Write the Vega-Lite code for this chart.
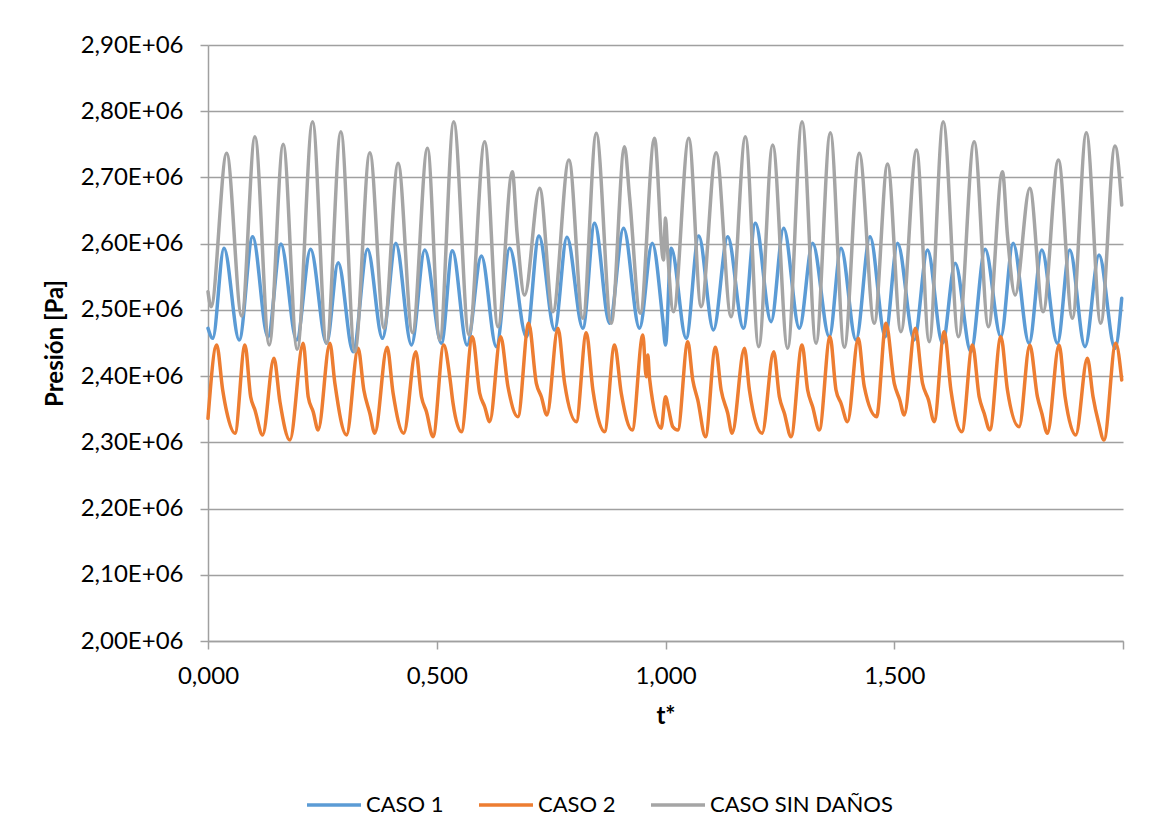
{
  "$schema": "https://vega.github.io/schema/vega-lite/v6.json",
  "width": 915,
  "height": 596,
  "autosize": {"type": "none"},
  "padding": {"left": 208, "top": 45, "right": 43, "bottom": 178},
  "background": "white",
  "config": {"view": {"stroke": null}, "font": "Lato"},
  "data": {"values": [
    {"serie":"CASO 1","t":0.0000,"p":2472200},
    {"serie":"CASO 1","t":0.0103,"p":2457100},
    {"serie":"CASO 1","t":0.0349,"p":2593000},
    {"serie":"CASO 1","t":0.0683,"p":2454600},
    {"serie":"CASO 1","t":0.0976,"p":2610500},
    {"serie":"CASO 1","t":0.1310,"p":2459100},
    {"serie":"CASO 1","t":0.1594,"p":2599500},
    {"serie":"CASO 1","t":0.1937,"p":2454600},
    {"serie":"CASO 1","t":0.2242,"p":2591500},
    {"serie":"CASO 1","t":0.2592,"p":2449600},
    {"serie":"CASO 1","t":0.2845,"p":2571300},
    {"serie":"CASO 1","t":0.3172,"p":2436900},
    {"serie":"CASO 1","t":0.3487,"p":2591500},
    {"serie":"CASO 1","t":0.3814,"p":2457100},
    {"serie":"CASO 1","t":0.4105,"p":2600600},
    {"serie":"CASO 1","t":0.4448,"p":2447000},
    {"serie":"CASO 1","t":0.4738,"p":2590500},
    {"serie":"CASO 1","t":0.5103,"p":2449600},
    {"serie":"CASO 1","t":0.5343,"p":2589400},
    {"serie":"CASO 1","t":0.5662,"p":2447000},
    {"serie":"CASO 1","t":0.5976,"p":2581400},
    {"serie":"CASO 1","t":0.6303,"p":2444400},
    {"serie":"CASO 1","t":0.6594,"p":2593000},
    {"serie":"CASO 1","t":0.6959,"p":2459500},
    {"serie":"CASO 1","t":0.7234,"p":2611600},
    {"serie":"CASO 1","t":0.7576,"p":2469700},
    {"serie":"CASO 1","t":0.7845,"p":2609600},
    {"serie":"CASO 1","t":0.8194,"p":2472200},
    {"serie":"CASO 1","t":0.8450,"p":2630800},
    {"serie":"CASO 1","t":0.8777,"p":2479800},
    {"serie":"CASO 1","t":0.9083,"p":2623200},
    {"serie":"CASO 1","t":0.9432,"p":2472200},
    {"serie":"CASO 1","t":0.9710,"p":2600600},
    {"serie":"CASO 1","t":0.9941,"p":2484800},
    {"serie":"CASO 1","t":1.0000,"p":2447000},
    {"serie":"CASO 1","t":1.0124,"p":2593000},
    {"serie":"CASO 1","t":1.0452,"p":2457100},
    {"serie":"CASO 1","t":1.0727,"p":2611600},
    {"serie":"CASO 1","t":1.1048,"p":2469700},
    {"serie":"CASO 1","t":1.1360,"p":2610500},
    {"serie":"CASO 1","t":1.1703,"p":2472200},
    {"serie":"CASO 1","t":1.1965,"p":2630800},
    {"serie":"CASO 1","t":1.2308,"p":2482200},
    {"serie":"CASO 1","t":1.2583,"p":2623200},
    {"serie":"CASO 1","t":1.2926,"p":2472200},
    {"serie":"CASO 1","t":1.3216,"p":2600600},
    {"serie":"CASO 1","t":1.3581,"p":2459500},
    {"serie":"CASO 1","t":1.3836,"p":2593000},
    {"serie":"CASO 1","t":1.4164,"p":2454600},
    {"serie":"CASO 1","t":1.4470,"p":2610500},
    {"serie":"CASO 1","t":1.4803,"p":2459500},
    {"serie":"CASO 1","t":1.5072,"p":2600600},
    {"serie":"CASO 1","t":1.5437,"p":2454600},
    {"serie":"CASO 1","t":1.5727,"p":2590500},
    {"serie":"CASO 1","t":1.6055,"p":2449600},
    {"serie":"CASO 1","t":1.6332,"p":2570400},
    {"serie":"CASO 1","t":1.6675,"p":2436900},
    {"serie":"CASO 1","t":1.6987,"p":2591500},
    {"serie":"CASO 1","t":1.7330,"p":2459500},
    {"serie":"CASO 1","t":1.7598,"p":2600600},
    {"serie":"CASO 1","t":1.7948,"p":2449600},
    {"serie":"CASO 1","t":1.8225,"p":2590500},
    {"serie":"CASO 1","t":1.8566,"p":2449600},
    {"serie":"CASO 1","t":1.8836,"p":2590500},
    {"serie":"CASO 1","t":1.9170,"p":2444400},
    {"serie":"CASO 1","t":1.9476,"p":2582900},
    {"serie":"CASO 1","t":1.9825,"p":2442000},
    {"serie":"CASO 1","t":1.9972,"p":2517500},

    {"serie":"CASO 2","t":0.0000,"p":2336300},
    {"serie":"CASO 2","t":0.0190,"p":2447000},
    {"serie":"CASO 2","t":0.0321,"p":2379100},
    {"serie":"CASO 2","t":0.0408,"p":2346300},
    {"serie":"CASO 2","t":0.0590,"p":2313700},
    {"serie":"CASO 2","t":0.0808,"p":2447000},
    {"serie":"CASO 2","t":0.0932,"p":2368900},
    {"serie":"CASO 2","t":0.1026,"p":2348900},
    {"serie":"CASO 2","t":0.1194,"p":2311100},
    {"serie":"CASO 2","t":0.1441,"p":2426900},
    {"serie":"CASO 2","t":0.1572,"p":2361400},
    {"serie":"CASO 2","t":0.1790,"p":2303600},
    {"serie":"CASO 2","t":0.2081,"p":2449600},
    {"serie":"CASO 2","t":0.2190,"p":2368900},
    {"serie":"CASO 2","t":0.2299,"p":2346300},
    {"serie":"CASO 2","t":0.2408,"p":2318700},
    {"serie":"CASO 2","t":0.2664,"p":2449600},
    {"serie":"CASO 2","t":0.2773,"p":2389200},
    {"serie":"CASO 2","t":0.3028,"p":2311100},
    {"serie":"CASO 2","t":0.3282,"p":2442000},
    {"serie":"CASO 2","t":0.3406,"p":2379100},
    {"serie":"CASO 2","t":0.3537,"p":2343900},
    {"serie":"CASO 2","t":0.3646,"p":2313700},
    {"serie":"CASO 2","t":0.3915,"p":2443500},
    {"serie":"CASO 2","t":0.4046,"p":2374100},
    {"serie":"CASO 2","t":0.4279,"p":2313700},
    {"serie":"CASO 2","t":0.4541,"p":2436900},
    {"serie":"CASO 2","t":0.4666,"p":2368900},
    {"serie":"CASO 2","t":0.4775,"p":2346300},
    {"serie":"CASO 2","t":0.4919,"p":2308500},
    {"serie":"CASO 2","t":0.5153,"p":2447000},
    {"serie":"CASO 2","t":0.5284,"p":2399100},
    {"serie":"CASO 2","t":0.5356,"p":2359000},
    {"serie":"CASO 2","t":0.5539,"p":2316100},
    {"serie":"CASO 2","t":0.5779,"p":2459500},
    {"serie":"CASO 2","t":0.5939,"p":2374100},
    {"serie":"CASO 2","t":0.6048,"p":2353800},
    {"serie":"CASO 2","t":0.6157,"p":2331200},
    {"serie":"CASO 2","t":0.6397,"p":2459500},
    {"serie":"CASO 2","t":0.6557,"p":2384000},
    {"serie":"CASO 2","t":0.6775,"p":2338700},
    {"serie":"CASO 2","t":0.7009,"p":2479800},
    {"serie":"CASO 2","t":0.7177,"p":2389200},
    {"serie":"CASO 2","t":0.7286,"p":2368900},
    {"serie":"CASO 2","t":0.7408,"p":2341300},
    {"serie":"CASO 2","t":0.7649,"p":2472200},
    {"serie":"CASO 2","t":0.7795,"p":2389200},
    {"serie":"CASO 2","t":0.8050,"p":2331200},
    {"serie":"CASO 2","t":0.8269,"p":2465600},
    {"serie":"CASO 2","t":0.8413,"p":2379100},
    {"serie":"CASO 2","t":0.8668,"p":2316100},
    {"serie":"CASO 2","t":0.8886,"p":2447000},
    {"serie":"CASO 2","t":0.9033,"p":2374100},
    {"serie":"CASO 2","t":0.9273,"p":2318700},
    {"serie":"CASO 2","t":0.9505,"p":2462100},
    {"serie":"CASO 2","t":0.9579,"p":2399100},
    {"serie":"CASO 2","t":0.9614,"p":2431900},
    {"serie":"CASO 2","t":0.9651,"p":2396700},
    {"serie":"CASO 2","t":0.9906,"p":2321200},
    {"serie":"CASO 2","t":1.0000,"p":2368900},
    {"serie":"CASO 2","t":1.0072,"p":2348900},
    {"serie":"CASO 2","t":1.0159,"p":2323600},
    {"serie":"CASO 2","t":1.0269,"p":2318700},
    {"serie":"CASO 2","t":1.0487,"p":2452000},
    {"serie":"CASO 2","t":1.0596,"p":2394200},
    {"serie":"CASO 2","t":1.0705,"p":2364000},
    {"serie":"CASO 2","t":1.0873,"p":2308500},
    {"serie":"CASO 2","t":1.1092,"p":2443500},
    {"serie":"CASO 2","t":1.1216,"p":2379100},
    {"serie":"CASO 2","t":1.1360,"p":2343900},
    {"serie":"CASO 2","t":1.1456,"p":2313700},
    {"serie":"CASO 2","t":1.1725,"p":2442000},
    {"serie":"CASO 2","t":1.1834,"p":2379100},
    {"serie":"CASO 2","t":1.2111,"p":2313700},
    {"serie":"CASO 2","t":1.2365,"p":2436900},
    {"serie":"CASO 2","t":1.2489,"p":2368900},
    {"serie":"CASO 2","t":1.2598,"p":2343900},
    {"serie":"CASO 2","t":1.2745,"p":2308500},
    {"serie":"CASO 2","t":1.2985,"p":2447000},
    {"serie":"CASO 2","t":1.3107,"p":2379100},
    {"serie":"CASO 2","t":1.3216,"p":2353800},
    {"serie":"CASO 2","t":1.3362,"p":2318700},
    {"serie":"CASO 2","t":1.3596,"p":2459500},
    {"serie":"CASO 2","t":1.3727,"p":2379100},
    {"serie":"CASO 2","t":1.3836,"p":2359000},
    {"serie":"CASO 2","t":1.3980,"p":2331200},
    {"serie":"CASO 2","t":1.4214,"p":2457100},
    {"serie":"CASO 2","t":1.4345,"p":2384000},
    {"serie":"CASO 2","t":1.4614,"p":2338700},
    {"serie":"CASO 2","t":1.4819,"p":2479800},
    {"serie":"CASO 2","t":1.5000,"p":2389200},
    {"serie":"CASO 2","t":1.5120,"p":2364000},
    {"serie":"CASO 2","t":1.5218,"p":2341300},
    {"serie":"CASO 2","t":1.5459,"p":2472200},
    {"serie":"CASO 2","t":1.5618,"p":2389200},
    {"serie":"CASO 2","t":1.5749,"p":2364000},
    {"serie":"CASO 2","t":1.5873,"p":2331200},
    {"serie":"CASO 2","t":1.6092,"p":2467100},
    {"serie":"CASO 2","t":1.6238,"p":2379100},
    {"serie":"CASO 2","t":1.6478,"p":2316100},
    {"serie":"CASO 2","t":1.6710,"p":2447000},
    {"serie":"CASO 2","t":1.6856,"p":2368900},
    {"serie":"CASO 2","t":1.6965,"p":2343900},
    {"serie":"CASO 2","t":1.7089,"p":2318700},
    {"serie":"CASO 2","t":1.7330,"p":2459500},
    {"serie":"CASO 2","t":1.7474,"p":2379100},
    {"serie":"CASO 2","t":1.7729,"p":2323600},
    {"serie":"CASO 2","t":1.7963,"p":2447000},
    {"serie":"CASO 2","t":1.8129,"p":2368900},
    {"serie":"CASO 2","t":1.8225,"p":2343900},
    {"serie":"CASO 2","t":1.8347,"p":2313700},
    {"serie":"CASO 2","t":1.8603,"p":2447000},
    {"serie":"CASO 2","t":1.8734,"p":2368900},
    {"serie":"CASO 2","t":1.8967,"p":2311100},
    {"serie":"CASO 2","t":1.9221,"p":2426900},
    {"serie":"CASO 2","t":1.9345,"p":2368900},
    {"serie":"CASO 2","t":1.9461,"p":2331200},
    {"serie":"CASO 2","t":1.9585,"p":2303600},
    {"serie":"CASO 2","t":1.9841,"p":2449600},
    {"serie":"CASO 2","t":1.9972,"p":2394200},

    {"serie":"CASO SIN DAÑOS","t":0.0000,"p":2527500},
    {"serie":"CASO SIN DAÑOS","t":0.0066,"p":2504800},
    {"serie":"CASO SIN DAÑOS","t":0.0408,"p":2736500},
    {"serie":"CASO SIN DAÑOS","t":0.0736,"p":2490800},
    {"serie":"CASO SIN DAÑOS","t":0.1026,"p":2761500},
    {"serie":"CASO SIN DAÑOS","t":0.1338,"p":2447000},
    {"serie":"CASO SIN DAÑOS","t":0.1644,"p":2750100},
    {"serie":"CASO SIN DAÑOS","t":0.1950,"p":2440500},
    {"serie":"CASO SIN DAÑOS","t":0.2286,"p":2784200},
    {"serie":"CASO SIN DAÑOS","t":0.2592,"p":2449600},
    {"serie":"CASO SIN DAÑOS","t":0.2904,"p":2769100},
    {"serie":"CASO SIN DAÑOS","t":0.3210,"p":2436900},
    {"serie":"CASO SIN DAÑOS","t":0.3537,"p":2737400},
    {"serie":"CASO SIN DAÑOS","t":0.3849,"p":2472200},
    {"serie":"CASO SIN DAÑOS","t":0.4155,"p":2721400},
    {"serie":"CASO SIN DAÑOS","t":0.4469,"p":2465600},
    {"serie":"CASO SIN DAÑOS","t":0.4797,"p":2744000},
    {"serie":"CASO SIN DAÑOS","t":0.5066,"p":2454600},
    {"serie":"CASO SIN DAÑOS","t":0.5371,"p":2784200},
    {"serie":"CASO SIN DAÑOS","t":0.5705,"p":2462100},
    {"serie":"CASO SIN DAÑOS","t":0.6048,"p":2754000},
    {"serie":"CASO SIN DAÑOS","t":0.6338,"p":2474600},
    {"serie":"CASO SIN DAÑOS","t":0.6653,"p":2708700},
    {"serie":"CASO SIN DAÑOS","t":0.6753,"p":2618100},
    {"serie":"CASO SIN DAÑOS","t":0.6921,"p":2522500},
    {"serie":"CASO SIN DAÑOS","t":0.7249,"p":2683600},
    {"serie":"CASO SIN DAÑOS","t":0.7539,"p":2497300},
    {"serie":"CASO SIN DAÑOS","t":0.7889,"p":2726400},
    {"serie":"CASO SIN DAÑOS","t":0.8194,"p":2487300},
    {"serie":"CASO SIN DAÑOS","t":0.8487,"p":2766700},
    {"serie":"CASO SIN DAÑOS","t":0.8814,"p":2479800},
    {"serie":"CASO SIN DAÑOS","t":0.9105,"p":2746400},
    {"serie":"CASO SIN DAÑOS","t":0.9214,"p":2670900},
    {"serie":"CASO SIN DAÑOS","t":0.9448,"p":2494900},
    {"serie":"CASO SIN DAÑOS","t":0.9760,"p":2759100},
    {"serie":"CASO SIN DAÑOS","t":0.9956,"p":2575400},
    {"serie":"CASO SIN DAÑOS","t":1.0000,"p":2638800},
    {"serie":"CASO SIN DAÑOS","t":1.0044,"p":2590500},
    {"serie":"CASO SIN DAÑOS","t":1.0175,"p":2497300},
    {"serie":"CASO SIN DAÑOS","t":1.0509,"p":2759100},
    {"serie":"CASO SIN DAÑOS","t":1.0779,"p":2504800},
    {"serie":"CASO SIN DAÑOS","t":1.1107,"p":2737400},
    {"serie":"CASO SIN DAÑOS","t":1.1434,"p":2489700},
    {"serie":"CASO SIN DAÑOS","t":1.1747,"p":2761500},
    {"serie":"CASO SIN DAÑOS","t":1.2037,"p":2444400},
    {"serie":"CASO SIN DAÑOS","t":1.2343,"p":2749000},
    {"serie":"CASO SIN DAÑOS","t":1.2670,"p":2442000},
    {"serie":"CASO SIN DAÑOS","t":1.2985,"p":2784200},
    {"serie":"CASO SIN DAÑOS","t":1.3290,"p":2449600},
    {"serie":"CASO SIN DAÑOS","t":1.3603,"p":2767600},
    {"serie":"CASO SIN DAÑOS","t":1.3908,"p":2443500},
    {"serie":"CASO SIN DAÑOS","t":1.4236,"p":2736500},
    {"serie":"CASO SIN DAÑOS","t":1.4563,"p":2479800},
    {"serie":"CASO SIN DAÑOS","t":1.4854,"p":2720300},
    {"serie":"CASO SIN DAÑOS","t":1.5146,"p":2467100},
    {"serie":"CASO SIN DAÑOS","t":1.5487,"p":2741500},
    {"serie":"CASO SIN DAÑOS","t":1.5764,"p":2452000},
    {"serie":"CASO SIN DAÑOS","t":1.6070,"p":2784200},
    {"serie":"CASO SIN DAÑOS","t":1.6404,"p":2459500},
    {"serie":"CASO SIN DAÑOS","t":1.6747,"p":2754000},
    {"serie":"CASO SIN DAÑOS","t":1.7059,"p":2474600},
    {"serie":"CASO SIN DAÑOS","t":1.7365,"p":2708700},
    {"serie":"CASO SIN DAÑOS","t":1.7474,"p":2613100},
    {"serie":"CASO SIN DAÑOS","t":1.7642,"p":2522500},
    {"serie":"CASO SIN DAÑOS","t":1.7963,"p":2683600},
    {"serie":"CASO SIN DAÑOS","t":1.8253,"p":2497300},
    {"serie":"CASO SIN DAÑOS","t":1.8588,"p":2726400},
    {"serie":"CASO SIN DAÑOS","t":1.8893,"p":2487300},
    {"serie":"CASO SIN DAÑOS","t":1.9199,"p":2767600},
    {"serie":"CASO SIN DAÑOS","t":1.9513,"p":2479800},
    {"serie":"CASO SIN DAÑOS","t":1.9825,"p":2747500},
    {"serie":"CASO SIN DAÑOS","t":1.9972,"p":2658400}
  ]},
  "mark": {"type": "line", "strokeWidth": 3.5, "interpolate": "monotone", "strokeJoin": "round", "strokeCap": "round"},
  "encoding": {
    "x": {
      "field": "t", "type": "quantitative",
      "scale": {"domain": [0, 2], "nice": false, "zero": false},
      "axis": {
        "title": "t*",
        "values": [0, 0.5, 1, 1.5, 2],
        "labelExpr": "datum.value > 1.9 ? '' : replace(format(datum.value, '.3f'), '.', ',')",
        "grid": false,
        "domainColor": "#a0a0a0", "domainWidth": 1.5,
        "tickColor": "#a0a0a0", "tickSize": 8, "tickWidth": 1.5,
        "labelFont": "Lato", "labelFontSize": 24, "labelColor": "#000000",
        "labelPadding": 15, "labelFlush": false, "labelOverlap": false,
        "titleFont": "Lato", "titleFontSize": 24, "titleFontWeight": "bold", "titleColor": "#000000",
        "titlePadding": 16
      }
    },
    "y": {
      "field": "p", "type": "quantitative",
      "scale": {"domain": [2000000, 2900000], "nice": false, "zero": false},
      "axis": {
        "title": "Presión [Pa]",
        "values": [2000000, 2100000, 2200000, 2300000, 2400000, 2500000, 2600000, 2700000, 2800000, 2900000],
        "labelExpr": "replace(format(datum.value / 1000000, '.2f'), '.', ',') + 'E+06'",
        "grid": true, "gridColor": "#a0a0a0", "gridWidth": 1.5,
        "domainColor": "#a0a0a0", "domainWidth": 1.5,
        "tickColor": "#a0a0a0", "tickSize": 8, "tickWidth": 1.5,
        "labelFont": "Lato", "labelFontSize": 24, "labelColor": "#000000",
        "labelPadding": 17, "labelOverlap": false, "labelFlush": false,
        "titleFont": "Lato", "titleFontSize": 24, "titleFontWeight": "bold", "titleColor": "#000000",
        "titlePadding": 13
      }
    },
    "color": {
      "field": "serie", "type": "nominal",
      "scale": {"domain": ["CASO 1", "CASO 2", "CASO SIN DAÑOS"], "range": ["#5B9BD5", "#ED7D31", "#A5A5A5"]},
      "legend": {
        "title": null,
        "orient": "none",
        "legendX": 97,
        "legendY": 731,
        "direction": "horizontal",
        "padding": 0,
        "symbolType": "stroke",
        "symbolSize": 2916,
        "symbolStrokeWidth": 3.5,
        "labelFont": "Lato",
        "labelFontSize": 22,
        "labelColor": "#000000",
        "labelOffset": 3,
        "labelLimit": 400,
        "columnPadding": 28
      }
    }
  }
}
